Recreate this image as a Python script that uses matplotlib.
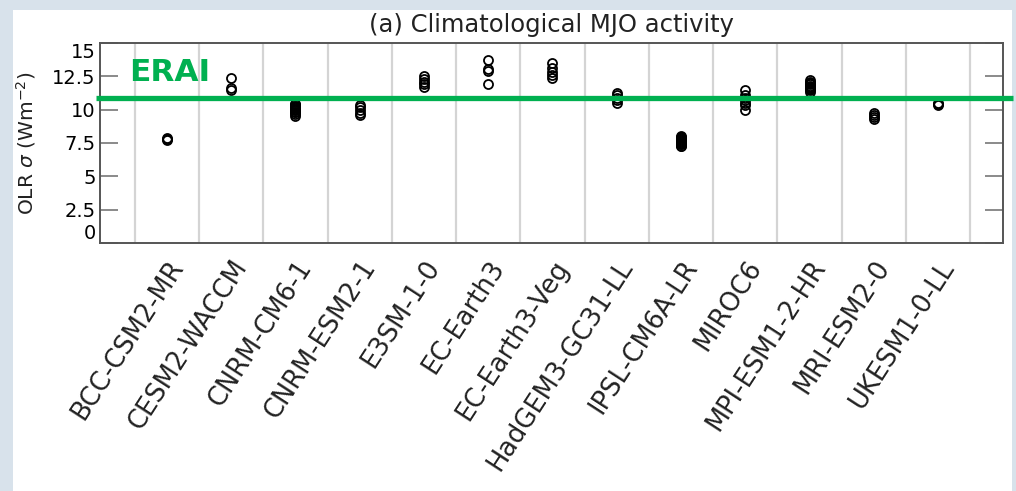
"""(a) Climatological MJO activity - OLR sigma per CMIP6 model, ERAI reference."""
import matplotlib
matplotlib.use('Agg')
import matplotlib.pyplot as plt
import matplotlib.transforms as mtransforms
from matplotlib.patches import Rectangle

models = ['BCC-CSM2-MR', 'CESM2-WACCM', 'CNRM-CM6-1', 'CNRM-ESM2-1', 'E3SM-1-0',
          'EC-Earth3', 'EC-Earth3-Veg', 'HadGEM3-GC31-LL', 'IPSL-CM6A-LR', 'MIROC6',
          'MPI-ESM1-2-HR', 'MRI-ESM2-0', 'UKESM1-0-LL']

# ensemble member OLR sigma (W m-2)
bcc = [7.7, 7.8, 7.9]
cesm2 = [11.5, 11.6, 12.35]
cnrm_cm6 = [9.55, 9.7, 9.8, 9.85, 9.95, 10.0, 10.05, 10.1, 10.2, 10.25, 10.3, 10.4, 10.45]
cnrm_esm2 = [9.6, 9.75, 10.0, 10.2, 10.35]
e3sm = [11.7, 11.9, 12.1, 12.3, 12.5]
ec_earth3 = [11.95, 12.9, 13.05, 13.7]
ec_earth3_veg = [12.4, 12.6, 12.8, 13.1, 13.5]
hadgem3 = [10.5, 10.7, 10.9, 11.1, 11.25]
ipsl = [7.25, 7.3, 7.4, 7.45, 7.5, 7.6, 7.65, 7.7, 7.8, 7.85, 7.95, 8.05]
miroc6 = [10.0, 10.35, 10.5, 10.7, 10.85, 11.1, 11.45]
mpi_hr = [11.35, 11.45, 11.55, 11.6, 11.7, 11.8, 11.9, 12.0, 12.1, 12.2]
mri = [9.3, 9.45, 9.6, 9.75]
ukesm = [10.35, 10.45, 10.5]
members = [bcc, cesm2, cnrm_cm6, cnrm_esm2, e3sm, ec_earth3, ec_earth3_veg,
           hadgem3, ipsl, miroc6, mpi_hr, mri, ukesm]

erai = 10.88
yticks = [0, 2.5, 5, 7.5, 10, 12.5, 15]
ytick_labels = ['0', '2.5', '5', '7.5', '10', '12.5', '15']

green = '#00b050'
frame_grey = '#555555'

fig = plt.figure(figsize=(10.16, 4.91), dpi=100)
fig.patch.set_facecolor('#d8e2eb')
fig.patches.append(Rectangle((13 / 1016, 0), 999 / 1016, 481 / 491, transform=fig.transFigure,
                             facecolor='white', edgecolor='none', zorder=-10))

ax = fig.add_axes([100 / 1016, 1 - 243 / 491, 903 / 1016, 200 / 491])
ax.set_facecolor('white')

for i, vals in enumerate(members):
    ax.plot([i] * len(vals), vals, linestyle='none', marker='o', markersize=6.5,
            markerfacecolor='none', markeredgecolor='black', markeredgewidth=1.3, zorder=3)

# vertical separators between models
for k in range(len(models) + 1):
    ax.axvline(k - 0.5, color='#d4d4d4', linewidth=1.6, zorder=1)

ax.set_xlim(-1.04, 13.01)
ax.set_ylim(0, 15)
ax.set_yticks(yticks)
ax.set_yticklabels(ytick_labels)
ax.tick_params(axis='y', direction='in', length=13, width=1.2, color='#777777',
               labelsize=14, pad=3, right=True, left=True)
ax.set_xticks(range(len(models)))
ax.set_xticklabels(models, rotation=57, ha='right', va='top', rotation_mode='anchor',
                   fontsize=18.5, color='#222222')
ax.tick_params(axis='x', length=0, pad=9)
ylabs = ax.get_yticklabels()
ylabs[0].set_va('bottom')
ylabs[-1].set_va('top')

for sp in ax.spines.values():
    sp.set_color(frame_grey)
    sp.set_linewidth(1.4)

ax.set_ylabel(r'OLR $\sigma$ (Wm$^{-2}$)', fontsize=14.5, labelpad=10, color='#222222')
ax.set_title('(a) Climatological MJO activity', fontsize=17.5, pad=8, color='#222222')

# ERAI reference line, running slightly past the frame
trans = mtransforms.blended_transform_factory(ax.transAxes, ax.transData)
ax.plot([-0.004, 1.011], [erai, erai], color=green, linewidth=3.8, transform=trans,
        clip_on=False, zorder=5, solid_capstyle='butt')
ax.text(29 / 903, erai + 0.8, 'ERAI', transform=trans, color=green, fontsize=22.5,
        fontweight='bold', ha='left', va='bottom', zorder=6)

fig.savefig('out.png', dpi=100, facecolor=fig.get_facecolor())
